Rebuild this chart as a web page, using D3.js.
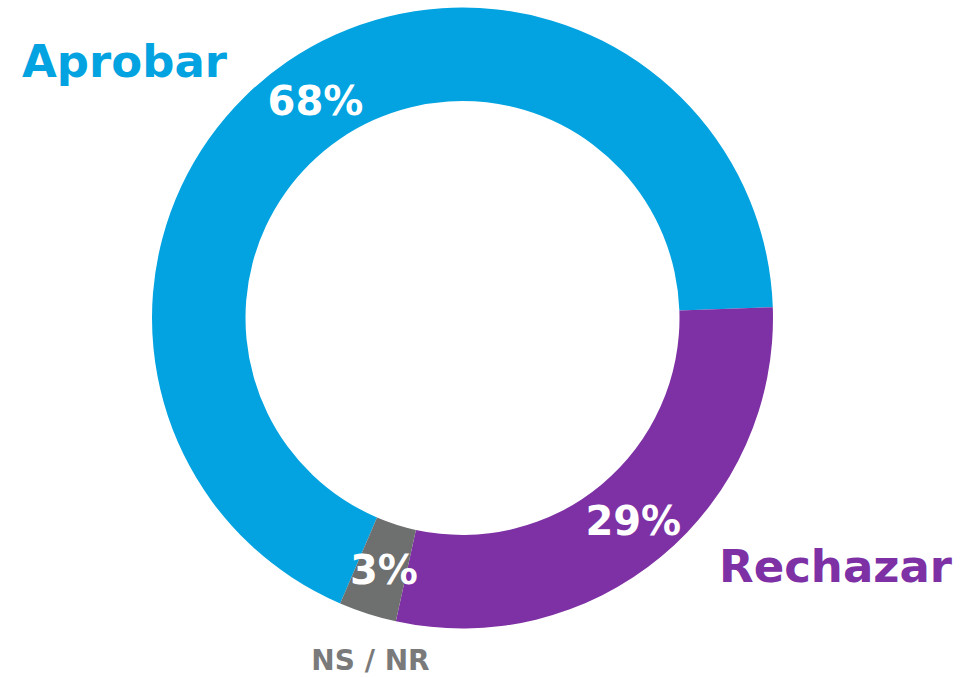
<!DOCTYPE html>
<html>
<head>
<meta charset="utf-8">
<script src="https://cdn.jsdelivr.net/npm/d3@7"></script>
<style>
  body { margin: 0; background: #fff; }
  svg text { font-family: "DejaVu Sans", sans-serif; font-weight: bold; }
</style>
</head>
<body>
<div id="chart"></div>
<script>
// data
const categories = ["Aprobar", "Rechazar", "NS / NR"]
const values = [68, 29, 3]
const valueLabels = ["68%", "29%", "3%"]
const colors = ["#02A3E0", "#7E31A5", "#6E6F6F"]
const nameColors = ["#02A3E0", "#7E31A5", "#7A7A7A"]

const W = 976, H = 678
const cx = 462.5, cy = 318
const outerR = 310.5, innerR = 217
// where the pie begins (Aprobar starts at lower left)
const startDeg = -156.8

// category name placement, relative to the chart centre
const namePos = [
    {x: -338, y: -257, size: 45, anchor: "middle"},
    {x: 373, y: 248, size: 45, anchor: "middle"},
    {x: -92, y: 342, size: 28, anchor: "middle"}
]

const svg = d3.select("#chart").append("svg")
    .attr("width", W)
    .attr("height", H)

const g = svg.append("g").attr("transform", `translate(${cx},${cy})`)

const pie = d3.pie()
    .sort(null)
    .value(d => d)
    .startAngle(startDeg * Math.PI / 180)
    .endAngle(startDeg * Math.PI / 180 + 2 * Math.PI)

const arcs = pie(values)

const arc = d3.arc().innerRadius(innerR).outerRadius(outerR)

g.selectAll("path.slice")
    .data(arcs)
    .join("path")
    .attr("class", "slice")
    .attr("d", arc)
    .attr("fill", (d, i) => colors[i])

//percent labels sit on the middle of the ring
g.selectAll("text.pct")
    .data(arcs)
    .join("text")
    .attr("class", "pct")
    .attr("transform", d => {
        const c = arc.centroid(d)
        return `translate(${c[0] + 2},${c[1]})`
    })
    .attr("text-anchor", "middle")
    .attr("dy", "0.36em")
    .attr("fill", "#fff")
    .style("font-size", "40px")
    .text((d, i) => valueLabels[i])

g.selectAll("text.name")
    .data(categories)
    .join("text")
    .attr("class", "name")
    .attr("x", (d, i) => namePos[i].x)
    .attr("y", (d, i) => namePos[i].y)
    .attr("text-anchor", (d, i) => namePos[i].anchor)
    .attr("dy", "0.36em")
    .attr("fill", (d, i) => nameColors[i])
    .style("font-size", (d, i) => namePos[i].size + "px")
    .text(d => d)
</script>
</body>
</html>
